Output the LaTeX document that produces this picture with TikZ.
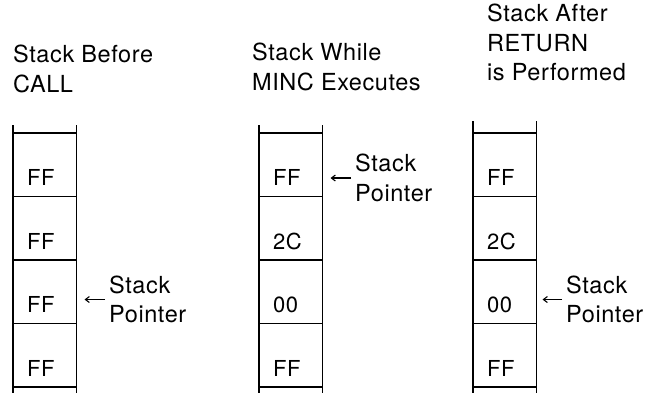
\documentclass[tikz,border=0pt]{standalone}
\usepackage{fontspec}
\setmainfont[LetterSpace=2.5]{TeX Gyre Heros}
\usetikzlibrary{positioning,calc,arrows.meta}

\begin{document}
\begin{tikzpicture}[
    x=1pt, y=-1pt,
    every node/.style={font=\fontsize{23.5}{29.5}\selectfont, inner sep=0pt},
    cell/.style={rectangle, draw, line width=1.8pt, minimum width=63.5pt, minimum height=63.5pt, outer sep=0pt},
    rail/.style={line width=1.8pt},
    title/.style={align=left, anchor=north west},
    val/.style={anchor=base west, font=\fontsize{22}{26}\selectfont},
    pointer/.style={align=left, anchor=west},
    ptrarrow/.style={-{Straight Barb[length=4pt,width=6pt]}, line width=1.1pt, shorten <=4pt}
]
    \useasboundingbox (0,0) rectangle (654,392);

    % stack before CALL
    \node [title] (t1) at (13,45) {Stack Before\\CALL};
    \node [cell, anchor=north west] (a1) at (13,133) {};
    \node [cell, below=0pt of a1] (a2) {};
    \node [cell, below=0pt of a2] (a3) {};
    \node [cell, below=0pt of a3] (a4) {};
    \draw [rail] ($(a1.north west)+(0,-8)$) -- ($(a4.south west)+(0,6)$);
    \draw [rail] ($(a1.north east)+(0,-8)$) -- ($(a4.south east)+(0,6)$);
    \node [val] (va1) at ($(a1.south west)+(14,-11)$) {FF};
    \node [val] (va2) at ($(a2.south west)+(14,-11)$) {FF};
    \node [val] (va3) at ($(a3.south west)+(14,-11)$) {FF};
    \node [val] (va4) at ($(a4.south west)+(14,-11)$) {FF};
    \node [pointer] (pa) at (109,299.5) {Stack\\Pointer};
    \draw [ptrarrow, shorten >=8pt] (pa.west) -- (pa.west -| a3.east);

    % stack while MINC executes
    \node [title] (t2) at (252,43) {Stack While\\MINC Executes};
    \node [cell, anchor=north west] (b1) at (259,133) {};
    \node [cell, below=0pt of b1] (b2) {};
    \node [cell, below=0pt of b2] (b3) {};
    \node [cell, below=0pt of b3] (b4) {};
    \draw [rail] ($(b1.north west)+(0,-8)$) -- ($(b4.south west)+(0,6)$);
    \draw [rail] ($(b1.north east)+(0,-8)$) -- ($(b4.south east)+(0,6)$);
    \node [val] (vb1) at ($(b1.south west)+(14,-11)$) {FF};
    \node [val] (vb2) at ($(b2.south west)+(14,-11)$) {2C};
    \node [val] (vb3) at ($(b3.south west)+(14,-11)$) {00};
    \node [val] (vb4) at ($(b4.south west)+(14,-11)$) {FF};
    \node [pointer] (pb) at (355,178) {Stack\\Pointer};
    \draw [ptrarrow, shorten >=8pt] (pb.west) -- (pb.west -| b1.east);

    % stack after RETURN
    \node [title] (t3) at (487,4) {Stack After\\RETURN\\is Performed};
    \node [cell, anchor=north west] (c1) at (473,133) {};
    \node [cell, below=0pt of c1] (c2) {};
    \node [cell, below=0pt of c2] (c3) {};
    \node [cell, below=0pt of c3] (c4) {};
    \draw [rail] ($(c1.north west)+(0,-12)$) -- ($(c4.south west)+(0,6)$);
    \draw [rail] ($(c1.north east)+(0,-12)$) -- ($(c4.south east)+(0,6)$);
    \node [val] (vc1) at ($(c1.south west)+(14,-11)$) {FF};
    \node [val] (vc2) at ($(c2.south west)+(14,-11)$) {2C};
    \node [val] (vc3) at ($(c3.south west)+(14,-11)$) {00};
    \node [val] (vc4) at ($(c4.south west)+(14,-11)$) {FF};
    \node [pointer] (pc) at (566,299.5) {Stack\\Pointer};
    \draw [ptrarrow, shorten >=6pt] (pc.west) -- (pc.west -| c3.east);
\end{tikzpicture}
\end{document}
